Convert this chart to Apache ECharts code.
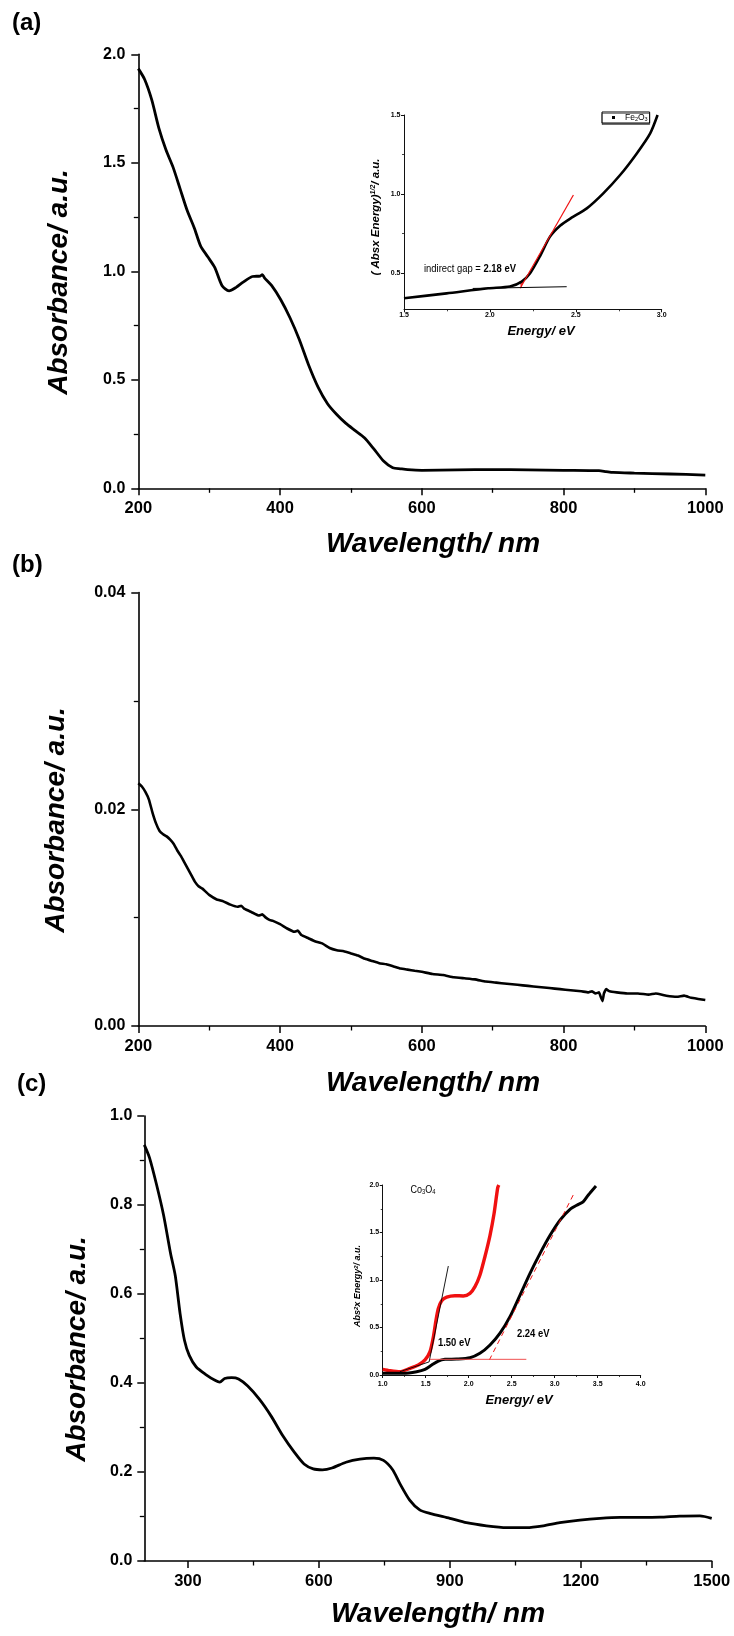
<!DOCTYPE html>
<html>
<head>
<meta charset="utf-8">
<script src="https://cdn.jsdelivr.net/npm/echarts@6/dist/echarts.min.js"></script>
<style>
  html, body { margin: 0; padding: 0; background: #fff; }
  #chart { width: 734px; height: 1636px; }
</style>
</head>
<body>
<div id="chart"></div>
<script>
// ---------- Panel (a): Fe2O3 UV-vis spectrum ----------
const wavelengthA = [200, 209, 219, 229, 239, 249, 259, 269, 279, 288, 298, 308, 318, 328, 338, 348, 361, 372, 375, 378, 388, 401, 414, 427, 440, 454, 467, 480, 493, 506, 519, 532, 546, 559, 570, 580, 600, 650, 700, 750, 800, 850, 860, 870, 900, 950, 1000];
const absorbanceA = [1.934, 1.884, 1.79, 1.66, 1.56, 1.48, 1.38, 1.28, 1.20, 1.116, 1.067, 1.017, 0.935, 0.91, 0.926, 0.95, 0.976, 0.978, 0.985, 0.97, 0.935, 0.869, 0.786, 0.687, 0.571, 0.464, 0.39, 0.34, 0.299, 0.266, 0.233, 0.183, 0.126, 0.095, 0.09, 0.086, 0.083, 0.085, 0.086, 0.085, 0.083, 0.081, 0.077, 0.073, 0.070, 0.066, 0.061];

// Inset (a): Tauc plot, indirect gap
const energyInA = [1.5, 1.748, 1.99, 2.117, 2.185, 2.234, 2.29, 2.35, 2.41, 2.47, 2.564, 2.66, 2.758, 2.855, 2.933, 2.976];
const taucInA = [0.34, 0.371, 0.403, 0.414, 0.445, 0.498, 0.603, 0.73, 0.80, 0.846, 0.909, 1.004, 1.12, 1.257, 1.384, 1.5];
const tangentInA = [[2.176, 0.403], [2.486, 0.994]];
const baselineInA = [[1.9, 0.402], [2.447, 0.413]];

// ---------- Panel (b) ----------
const wavelengthB = [200, 205, 210, 215, 220, 225, 230, 235, 240, 245, 250, 255, 260, 265, 270, 275, 280, 285, 290, 295, 300, 310, 320, 330, 340, 345, 350, 360, 370, 375, 380, 385, 390, 400, 410, 420, 425, 430, 440, 450, 460, 470, 480, 490, 500, 510, 520, 530, 540, 550, 560, 570, 580, 590, 600, 615, 630, 645, 660, 675, 690, 705, 720, 735, 750, 765, 780, 795, 810, 825, 835, 840, 845, 850, 853, 855, 857, 860, 865, 875, 890, 905, 920, 930, 945, 960, 970, 980, 990, 1000];
const absorbanceB = [0.0224, 0.0221, 0.0216, 0.0209, 0.0197, 0.0187, 0.0180, 0.0177, 0.0175, 0.0172, 0.0168, 0.0162, 0.0157, 0.0151, 0.0145, 0.0139, 0.0133, 0.0129, 0.0127, 0.0124, 0.0121, 0.0117, 0.0115, 0.0112, 0.0110, 0.0111, 0.0108, 0.0105, 0.0102, 0.0103, 0.0100, 0.0098, 0.0097, 0.0094, 0.0090, 0.0087, 0.0088, 0.0084, 0.0081, 0.0078, 0.0076, 0.0072, 0.0070, 0.0069, 0.0067, 0.0065, 0.0062, 0.0060, 0.0058, 0.0057, 0.0055, 0.0053, 0.0052, 0.0051, 0.0050, 0.0048, 0.0047, 0.0045, 0.0044, 0.0043, 0.0041, 0.0040, 0.0039, 0.0038, 0.0037, 0.0036, 0.0035, 0.0034, 0.0033, 0.0032, 0.0031, 0.0032, 0.0030, 0.0031, 0.0026, 0.0023, 0.0030, 0.0034, 0.0032, 0.0031, 0.0030, 0.0030, 0.0029, 0.0030, 0.0028, 0.0027, 0.0028, 0.0026, 0.0025, 0.0024];

// ---------- Panel (c): Co3O4 ----------
const wavelengthC = [200, 212, 228, 244, 260, 271, 282, 292, 303, 319, 341, 362, 373, 384, 400, 416, 437, 464, 491, 517, 544, 566, 587, 608, 630, 662, 694, 726, 748, 769, 785, 808, 831, 854, 900, 938, 984, 1030, 1076, 1114, 1152, 1198, 1244, 1290, 1336, 1382, 1427, 1473, 1500];
const absorbanceC = [0.935, 0.906, 0.846, 0.778, 0.692, 0.641, 0.556, 0.496, 0.462, 0.436, 0.419, 0.406, 0.402, 0.41, 0.412, 0.409, 0.393, 0.363, 0.325, 0.282, 0.244, 0.218, 0.207, 0.205, 0.209, 0.222, 0.229, 0.231, 0.226, 0.205, 0.175, 0.137, 0.115, 0.107, 0.096, 0.086, 0.079, 0.075, 0.075, 0.079, 0.086, 0.092, 0.096, 0.098, 0.098, 0.0985, 0.101, 0.1015, 0.096];

// Inset (c): direct-gap plots
const energyRedC = [1.0, 1.085, 1.2, 1.318, 1.414, 1.492, 1.55, 1.589, 1.62, 1.647, 1.686, 1.744, 1.84, 1.937, 2.015, 2.073, 2.13, 2.19, 2.248, 2.295, 2.337, 2.35];
const valueRedC = [0.06, 0.046, 0.035, 0.07, 0.105, 0.158, 0.246, 0.4, 0.579, 0.7, 0.782, 0.82, 0.835, 0.832, 0.86, 0.93, 1.05, 1.25, 1.47, 1.70, 1.97, 2.0];
const energyBlackC = [1.0, 1.24, 1.395, 1.492, 1.57, 1.647, 1.725, 1.86, 2.015, 2.13, 2.248, 2.364, 2.48, 2.597, 2.713, 2.83, 2.946, 3.062, 3.178, 3.275, 3.333, 3.391, 3.48];
const valueBlackC = [0.018, 0.018, 0.035, 0.06, 0.105, 0.147, 0.165, 0.168, 0.182, 0.228, 0.316, 0.44, 0.614, 0.842, 1.07, 1.28, 1.47, 1.63, 1.744, 1.796, 1.825, 1.895, 1.99];
const tangentRedFit = [[1.54, 0.138], [1.763, 1.147]];
const baselineRedFit = [[1.2, 0.035], [1.54, 0.138]];
const tangentBlackFit = [[2.24, 0.158], [3.225, 1.912]];
const baselineBlackFit = [[1.55, 0.165], [2.67, 0.165]];

// Tick values
const ticksCx = [300, 600, 900, 1200, 1500];
const minorTicksCx = [450, 750, 1050, 1350];
const ticksInAy = [0.5, 1.0, 1.5];
const minorTicksInAy = [0.75, 1.25];

const pair = (xs, ys) => xs.map((x, i) => [x, ys[i]]);

const SANS = 'Liberation Sans, Arial, sans-serif';
const NARROW_SCALE = 0.82;   // condensed look for the small annotation texts

function mainAxis(extra) {
  return Object.assign({
    type: 'value',
    splitLine: { show: false },
    axisLine: { show: true, onZero: false, lineStyle: { color: '#000', width: 1.6 } },
    axisTick: { show: true, inside: false, length: 7, lineStyle: { color: '#000', width: 1.5 } },
    minorTick: { show: true, splitNumber: 2, length: 4.5, lineStyle: { color: '#000', width: 1.3 } },
    axisLabel: { color: '#000', fontFamily: SANS, fontWeight: 'bold', fontSize: 16.5, margin: 12, formatter: v => String(v) }
  }, extra);
}
function insetAxis(extra) {
  return Object.assign({
    type: 'value',
    splitLine: { show: false },
    axisLine: { show: true, onZero: false, lineStyle: { color: '#111', width: 1 } },
    axisTick: { show: true, inside: false, length: 3, lineStyle: { color: '#111', width: 1 } },
    minorTick: { show: true, splitNumber: 2, length: 2, lineStyle: { color: '#111', width: 0.8 } },
    axisLabel: { color: '#000', fontFamily: SANS, fontWeight: 'bold', fontSize: 7, margin: 2, formatter: v => v.toFixed(1) }
  }, extra);
}

const xAxes = [
  mainAxis({ gridIndex: 0, min: 200, max: 1000, interval: 200 }),
  mainAxis({ gridIndex: 1, min: 200, max: 1000, interval: 200 }),
  mainAxis({ gridIndex: 2, min: 200, max: 1500,
    axisTick: { show: true, length: 7, customValues: ticksCx, lineStyle: { color: '#000', width: 1.5 } },
    axisLabel: { color: '#000', fontFamily: SANS, fontWeight: 'bold', fontSize: 16.5, margin: 12, customValues: ticksCx, formatter: v => String(v) },
    minorTick: { show: false } }),
  { type: 'value', gridIndex: 2, min: 200, max: 1500, position: 'bottom',
    axisLine: { show: false }, axisLabel: { show: false }, splitLine: { show: false },
    axisTick: { show: true, length: 4.5, customValues: minorTicksCx, lineStyle: { color: '#000', width: 1.3 } } },
  insetAxis({ gridIndex: 3, min: 1.5, max: 3.0, interval: 0.5 }),
  insetAxis({ gridIndex: 4, min: 1.0, max: 4.0, interval: 0.5, axisLabel: { color: '#000', fontFamily: SANS, fontWeight: 'bold', fontSize: 7, margin: 5.5, formatter: v => v.toFixed(1) } })
];

const yAxes = [
  mainAxis({ gridIndex: 0, min: 0, max: 2.0, interval: 0.5, axisLabel: { color: '#000', fontFamily: SANS, fontWeight: 'bold', fontSize: 16, margin: 13, formatter: v => v.toFixed(1) } }),
  mainAxis({ gridIndex: 1, min: 0, max: 0.04, interval: 0.02, axisLabel: { color: '#000', fontFamily: SANS, fontWeight: 'bold', fontSize: 16, margin: 13, formatter: v => v.toFixed(2) } }),
  mainAxis({ gridIndex: 2, min: 0, max: 1.0, interval: 0.2, axisLabel: { color: '#000', fontFamily: SANS, fontWeight: 'bold', fontSize: 16, margin: 12, formatter: v => v.toFixed(1) } }),
  insetAxis({ gridIndex: 3, min: 0.27, max: 1.5,
    axisTick: { show: true, length: 3, customValues: ticksInAy, lineStyle: { color: '#111', width: 1 } },
    axisLabel: { color: '#000', fontFamily: SANS, fontWeight: 'bold', fontSize: 7, margin: 3.5, customValues: ticksInAy, formatter: v => v.toFixed(1) },
    minorTick: { show: false } }),
  { type: 'value', gridIndex: 3, min: 0.27, max: 1.5, position: 'left',
    axisLine: { show: false }, axisLabel: { show: false }, splitLine: { show: false },
    axisTick: { show: true, length: 2, customValues: minorTicksInAy, lineStyle: { color: '#111', width: 0.8 } } },
  insetAxis({ gridIndex: 4, min: 0, max: 2.0, interval: 0.5, axisLabel: { color: '#000', fontFamily: SANS, fontWeight: 'bold', fontSize: 7, margin: 3.5, formatter: v => v.toFixed(1) } })
];

function curve(name, xi, yi, data, color, width, extra) {
  return Object.assign({
    name, type: 'line', xAxisIndex: xi, yAxisIndex: yi, data,
    showSymbol: false, smooth: 0.25, animation: false, silent: true,
    lineStyle: { color, width }, itemStyle: { color }
  }, extra || {});
}

const series = [
  curve('spectrumA', 0, 0, pair(wavelengthA, absorbanceA), '#000', 2.8),
  curve('spectrumB', 1, 1, pair(wavelengthB, absorbanceB), '#000', 2.6, { smooth: 0.1 }),
  curve('spectrumC', 2, 2, pair(wavelengthC, absorbanceC), '#000', 2.8),
  curve('Fe2O3', 4, 3, pair(energyInA, taucInA), '#000', 2.6),
  curve('fitA', 4, 3, tangentInA, '#f01010', 1.2, { smooth: false }),
  curve('baseA', 4, 3, baselineInA, '#000', 1, { smooth: false }),
  { type: 'scatter', xAxisIndex: 4, yAxisIndex: 3, data: [[2.183, 0.425]], symbol: 'triangle', symbolSize: [4, 7], symbolRotate: 180, itemStyle: { color: '#f01010' }, animation: false, silent: true },
  curve('redC', 5, 5, pair(energyRedC, valueRedC), '#f01010', 3.4),
  curve('blackC', 5, 5, pair(energyBlackC, valueBlackC), '#000', 3),
  curve('tanRed', 5, 5, tangentRedFit, '#000', 0.9, { smooth: false }),
  curve('baseRed', 5, 5, baselineRedFit, '#000', 0.9, { smooth: false }),
  curve('tanBlack', 5, 5, tangentBlackFit, '#f01010', 1, { smooth: false, lineStyle: { color: '#f01010', width: 1, type: [5, 4] } }),
  curve('baseBlack', 5, 5, baselineBlackFit, '#f05050', 1, { smooth: false })
];

function label(text, x, y, size, extra) {
  return { type: 'text', x, y, style: Object.assign({ text, fill: '#000', fontFamily: SANS, fontWeight: 'bold', fontSize: size, align: 'left', verticalAlign: 'middle' }, extra || {}) };
}
function narrowLabel(text, x, y, size, bold, rich) {
  return { type: 'text', x, y, scaleX: NARROW_SCALE,
    style: { text, fill: '#000', fontFamily: SANS, fontWeight: bold ? 'bold' : 'normal', fontSize: size, align: 'left', verticalAlign: 'middle', rich: rich || {} } };
}
function title(text, x, y, size, rotated, rich) {
  return { type: 'text', x, y, rotation: rotated ? Math.PI / 2 : 0,
    style: { text, fill: '#000', fontFamily: SANS, fontWeight: 'bold', fontStyle: 'italic', fontSize: size, align: 'center', verticalAlign: 'middle', rich: rich || {} } };
}

const supRich = (size) => ({ sup: { fontFamily: SANS, fontWeight: 'bold', fontStyle: 'italic', fontSize: size, verticalAlign: 'top', fill: '#000' } });

const graphics = [
  label('(a)', 12, 23, 24),
  label('(b)', 12, 565, 24),
  label('(c)', 17, 1084, 24),
  title('Wavelength/ nm', 433, 544, 28),
  title('Wavelength/ nm', 433, 1083, 28),
  title('Wavelength/ nm', 438, 1614, 28),
  title('Absorbance/ a.u.', 59, 282, 28, true),
  title('Absorbance/ a.u.', 56, 820, 28, true),
  title('Absorbance/ a.u.', 77, 1349, 28, true),
  title('Energy/ eV', 541, 331, 13),
  title('Energy/ eV', 519, 1400, 13),
  title('( Absx Energy){sup|1/2}/ a.u.', 376, 217, 11.5, true, supRich(7)),
  title('Abs{sup|2}x Energy{sup|2}/ a.u.', 358, 1286, 9, true, supRich(6)),
  narrowLabel('indirect gap = {b|2.18 eV}', 424, 269, 11.5, false,
    { b: { fontFamily: SANS, fontWeight: 'bold', fontSize: 11.5, fill: '#000' } }),
  narrowLabel('Co{s|3}O{s|4}', 410.5, 1190, 11, false,
    { s: { fontFamily: SANS, fontSize: 7, verticalAlign: 'bottom', fill: '#000' } }),
  narrowLabel('1.50 eV', 438, 1343, 11.5, true),
  narrowLabel('2.24 eV', 517, 1334, 11.5, true)
];

const chart = echarts.init(document.getElementById('chart'), null, { renderer: 'canvas' });
chart.setOption({
  animation: false,
  backgroundColor: '#fff',
  grid: [
    { left: 138.3, top: 54.3, width: 567, height: 434, containLabel: false },
    { left: 138.3, top: 592.6, width: 567, height: 433.4, containLabel: false },
    { left: 144.3, top: 1116, width: 567.4, height: 445, containLabel: false },
    { left: 404, top: 115, width: 257.7, height: 194.3, containLabel: false },
    { left: 382.7, top: 1185, width: 258, height: 190, containLabel: false }
  ],
  xAxis: xAxes,
  yAxis: yAxes,
  legend: {
    show: true, data: [{ name: 'Fe2O3', icon: 'rect' }],
    left: 602, top: 112, itemWidth: 3, itemHeight: 3, itemGap: 0,
    padding: [1, 2, 1, 10],
    borderColor: '#000', borderWidth: 1, backgroundColor: '#fff',
    shadowColor: 'rgba(0,0,0,0.45)', shadowBlur: 0, shadowOffsetX: 0, shadowOffsetY: 1.5,
    selectedMode: false,
    formatter: () => 'Fe{s|2}O{s|3}',
    textStyle: { fontFamily: SANS, fontSize: 8.5, color: '#000', padding: [0, 0, 0, 5],
      rich: { s: { fontFamily: SANS, fontSize: 5.5, verticalAlign: 'bottom', color: '#000' } } }
  },
  series,
  graphic: graphics
});
</script>
</body>
</html>
